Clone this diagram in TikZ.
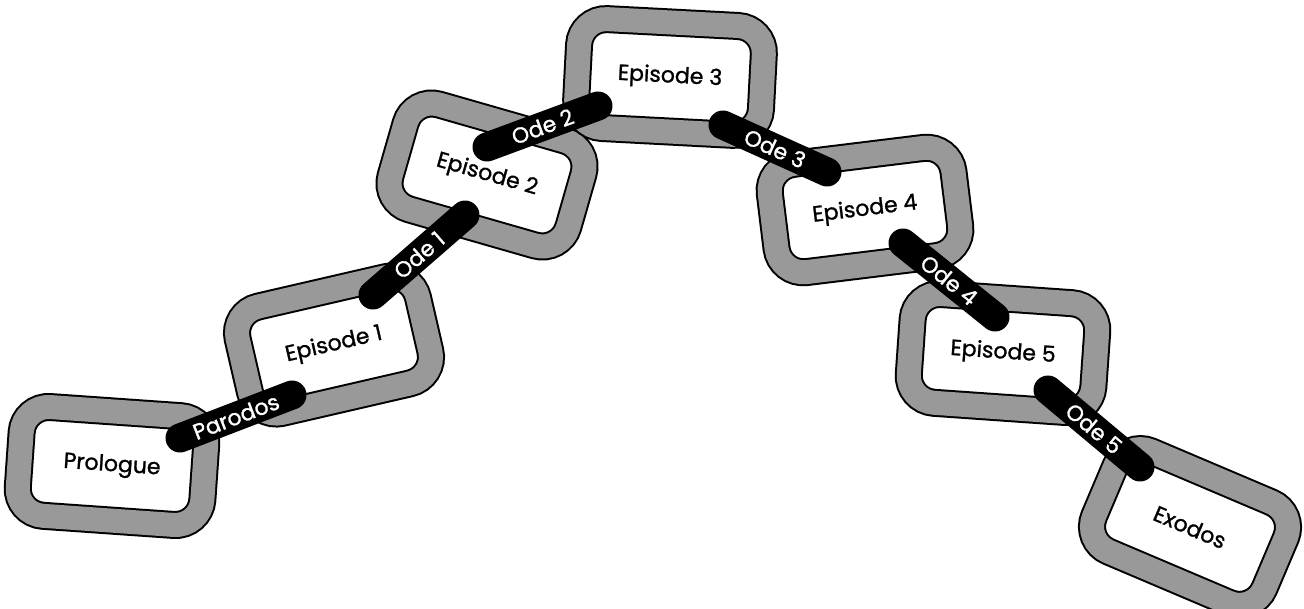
\documentclass[tikz,border=0pt]{standalone}
\usepackage{fontspec}
\setmainfont{Poppins}
\newfontfamily\linkfam{Poppins}[FakeBold=1.2]
\newcommand{\linkfont}{\linkfam\fontsize{22}{26}\selectfont}

\begin{document}
\begin{tikzpicture}[x=1pt,y=-1pt,
  link/.style={draw,line width=2pt,double=black!40,double distance=24pt,fill=white,
    rounded corners=27pt,minimum width=185pt,minimum height=109pt,font=\linkfont},
  ode/.style={line width=29pt,line cap=round},
  odelabel/.style={sloped,text=white,font=\linkfont}]

\useasboundingbox (0,0) rectangle (1304,609);

\node [link,rotate=-4] (n0) at (112,466) {Prologue};
\node [link,rotate=13] (n1) at (334,345) {Episode 1};
\node [link,rotate=-16] (n2) at (487,175) {Episode 2};
\node [link,rotate=-3] (n3) at (670,77) {Episode 3};
\node [link,rotate=7] (n4) at (865,210) {Episode 4};
\node [link,rotate=-4] (n5) at (1003,353) {Episode 5};
\node [link,rotate=-23] (n6) at (1190,527) {Exodos};

\coordinate (a0) at (180,438);
\coordinate (b0) at (292,395);
\coordinate (a1) at (373,295);
\coordinate (b1) at (465,215);
\coordinate (a2) at (487,147);
\coordinate (b2) at (598,106);
\coordinate (a3) at (723,125);
\coordinate (b3) at (827,172);
\coordinate (a4) at (903,243);
\coordinate (b4) at (995,317);
\coordinate (a5) at (1048,390);
\coordinate (b5) at (1140,467);

\path
	(a0) edge [ode] node [odelabel] {Parodos} (b0)
	(a1) edge [ode] node [odelabel] {Ode 1} (b1)
	(a2) edge [ode] node [odelabel] {Ode 2} (b2)
	(a3) edge [ode] node [odelabel] {Ode 3} (b3)
	(a4) edge [ode] node [odelabel] {Ode 4} (b4)
	(a5) edge [ode] node [odelabel] {Ode 5} (b5)
;

\end{tikzpicture}
\end{document}
